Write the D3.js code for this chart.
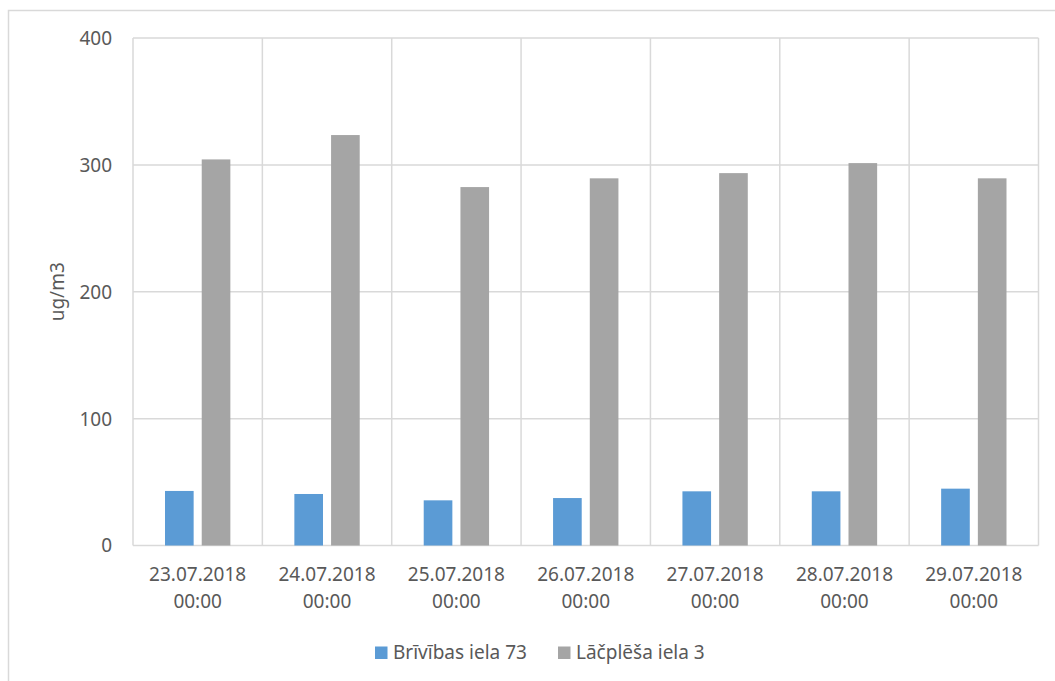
<!DOCTYPE html>
<html>
<head>
<meta charset="utf-8">
<script src="https://cdn.jsdelivr.net/npm/d3@7"></script>
<style>
  html, body { margin: 0; padding: 0; background: #fff; }
  svg { display: block; }
  text { font-family: "Noto Sans", "Open Sans", sans-serif; fill: #595959; }
</style>
</head>
<body>
<svg id="chart" width="1055" height="681"></svg>
<script>
// Daily concentration per monitoring station
const categories = [
  ["23.07.2018", "00:00"],
  ["24.07.2018", "00:00"],
  ["25.07.2018", "00:00"],
  ["26.07.2018", "00:00"],
  ["27.07.2018", "00:00"],
  ["28.07.2018", "00:00"],
  ["29.07.2018", "00:00"]
];
const seriesNames = ["Brīvības iela 73", "Lāčplēša iela 3"];
const brivibas = [43, 40.6, 35.6, 37.4, 42.7, 42.7, 44.8];
const lacplesa = [304.3, 323.5, 282.5, 289.4, 293.5, 301.4, 289.4];
const yTicks = [0, 100, 200, 300, 400];
const yTitle = "ug/m3";
const colors = ["#5B9BD5", "#A5A5A5"];

const svg = d3.select("#chart");
const plot = { left: 133, right: 1038.5, top: 38, bottom: 545.5 };

// Outer chart frame
svg.append("rect")
  .attr("x", 8.5).attr("y", 10.5)
  .attr("width", 1100).attr("height", 700)
  .attr("fill", "none").attr("stroke", "#D9D9D9").attr("stroke-width", 1.5);

const keys = categories.map(c => c.join(" "));
const x0 = d3.scaleBand().domain(keys).range([plot.left, plot.right]).padding(0);
const sidePad = 32;
const x1 = d3.scaleBand().domain(seriesNames)
  .range([sidePad, x0.bandwidth() - sidePad]).paddingInner(0.22);
const y = d3.scaleLinear().domain([0, 400]).range([plot.bottom, plot.top]);

const grid = svg.append("g").attr("stroke", "#D9D9D9").attr("stroke-width", 1.5);
// Horizontal gridlines
grid.selectAll("line.h").data(yTicks).join("line")
  .attr("class", "h")
  .attr("x1", plot.left).attr("x2", plot.right)
  .attr("y1", d => y(d)).attr("y2", d => y(d));
// Vertical gridlines at category boundaries
const bounds = keys.map(k => x0(k)).concat([plot.right]);
grid.selectAll("line.v").data(bounds).join("line")
  .attr("class", "v")
  .attr("x1", d => d).attr("x2", d => d)
  .attr("y1", plot.top).attr("y2", plot.bottom);

// Bars
const rows = keys.map((k, i) => ({ key: k, values: [brivibas[i], lacplesa[i]] }));
const groups = svg.append("g").selectAll("g").data(rows).join("g")
  .attr("transform", d => `translate(${x0(d.key)},0)`);
groups.selectAll("rect").data(d => d.values.map((v, j) => ({ name: seriesNames[j], v, j })))
  .join("rect")
  .attr("x", d => x1(d.name))
  .attr("width", x1.bandwidth())
  .attr("y", d => y(d.v))
  .attr("height", d => y(0) - y(d.v))
  .attr("fill", d => colors[d.j]);

// Y axis labels
const yAxis = d3.axisLeft(y).tickValues(yTicks).tickSize(0).tickPadding(0);
const yg = svg.append("g").attr("transform", `translate(${plot.left - 21},0)`).call(yAxis);
yg.select(".domain").remove();
yg.selectAll("text").attr("font-size", 19).attr("fill", "#595959")
  .style("font-family", "'Noto Sans', sans-serif").attr("dy", "0.34em");

// X axis labels (two lines)
const xg = svg.append("g");
xg.selectAll("text").data(categories).join("text")
  .attr("x", (d, i) => x0(keys[i]) + x0.bandwidth() / 2)
  .attr("y", 581)
  .attr("text-anchor", "middle")
  .attr("font-size", 19)
  .each(function (d) {
    const t = d3.select(this);
    t.append("tspan").attr("x", t.attr("x")).attr("dy", 0).text(d[0]);
    t.append("tspan").attr("x", t.attr("x")).attr("dy", 27).text(d[1]);
  });

// Y axis title
svg.append("text")
  .attr("transform", `translate(64,${(plot.top + plot.bottom) / 2}) rotate(-90)`)
  .attr("text-anchor", "middle")
  .attr("font-size", 19)
  .text(yTitle);

// Legend
const legendItems = [
  { name: seriesNames[0], color: colors[0], x: 375 },
  { name: seriesNames[1], color: colors[1], x: 558 }
];
const lg = svg.append("g");
legendItems.forEach(it => {
  lg.append("rect").attr("x", it.x).attr("y", 646.5)
    .attr("width", 12.5).attr("height", 12.5).attr("fill", it.color);
  lg.append("text").attr("x", it.x + 18).attr("y", 658.5)
    .attr("font-size", 19).text(it.name);
});
</script>
</body>
</html>
